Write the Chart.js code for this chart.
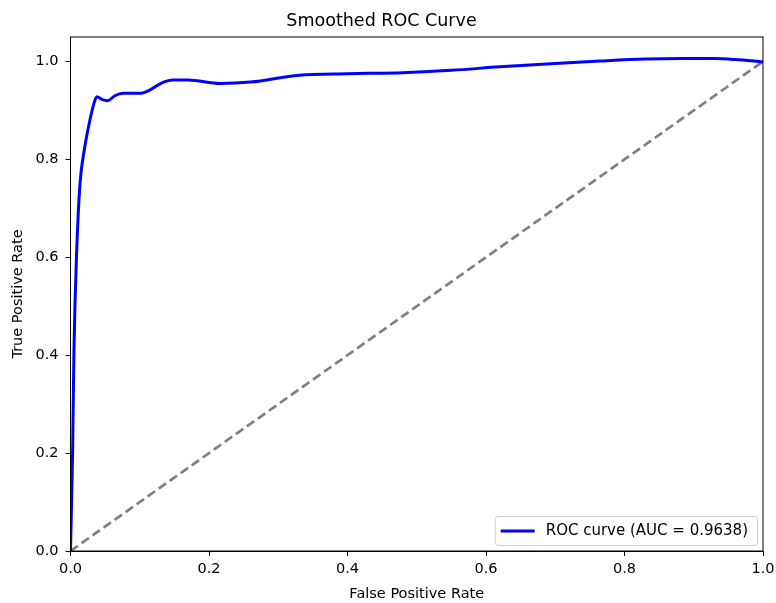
<!DOCTYPE html>
<html>
<head>
<meta charset="utf-8">
<script src="https://cdn.jsdelivr.net/npm/chart.js@4/dist/chart.umd.min.js"></script>
<style>
  html, body { margin: 0; padding: 0; background: #fff; }
  #wrap { width: 776px; height: 603px; }
</style>
</head>
<body>
<div id="wrap"><canvas id="roc"></canvas></div>
<script>
// data
const rocFpr = [0, 0.003, 0.005, 0.009, 0.0137, 0.02, 0.028, 0.034, 0.038, 0.046, 0.054, 0.064, 0.076, 0.1, 0.115, 0.13, 0.148, 0.17, 0.216, 0.26, 0.33, 0.4, 0.48, 0.55, 0.62, 0.7, 0.765, 0.83, 0.885, 0.93, 0.96, 1.0];
const rocTpr = [0, 0.2, 0.41, 0.615, 0.75, 0.82, 0.88, 0.915, 0.928, 0.922, 0.92, 0.93, 0.935, 0.935, 0.942, 0.955, 0.962, 0.962, 0.955, 0.958, 0.972, 0.975, 0.977, 0.982, 0.989, 0.996, 1.001, 1.005, 1.006, 1.006, 1.004, 0.999];
const diagX = [0, 1];
const diagY = [0, 1];
const tickValues = [0, 0.2, 0.4, 0.6, 0.8, 1.0];
const rocLabel = "ROC curve (AUC = 0.9638)";

const font = "'DejaVu Sans', sans-serif";

// full frame around the plot (matplotlib style)
const framePlugin = {
  id: "frame",
  afterDatasetsDraw(chart) {
    const { ctx, chartArea: a } = chart;
    ctx.save();
    ctx.strokeStyle = "#000";
    ctx.lineWidth = 1;
    ctx.strokeRect(a.left, a.top, a.right - a.left, a.bottom - a.top);
    ctx.restore();
  }
};

// legend box in lower right corner, inside the plot
const insideLegend = {
  id: "insideLegend",
  afterDraw(chart) {
    const { ctx, chartArea: a } = chart;
    const ds = chart.data.datasets[0];
    ctx.save();
    ctx.font = "15px " + font;
    const tw = ctx.measureText(ds.label).width;
    const w = 6 + 34 + 11 + tw + 9;
    const h = 29;
    const x = a.right - 6 - w;
    const y = a.bottom - 6 - h;
    ctx.fillStyle = "rgba(255,255,255,0.8)";
    ctx.strokeStyle = "#d0d0d0";
    ctx.lineWidth = 1;
    ctx.beginPath();
    ctx.roundRect(x + 0.5, y + 0.5, w, h, 3);
    ctx.fill();
    ctx.stroke();
    ctx.strokeStyle = ds.borderColor;
    ctx.lineWidth = 3;
    ctx.beginPath();
    ctx.moveTo(x + 6, y + h / 2 + 0.5);
    ctx.lineTo(x + 40, y + h / 2 + 0.5);
    ctx.stroke();
    ctx.fillStyle = "#000";
    ctx.textBaseline = "middle";
    ctx.fillText(ds.label, x + 51, y + h / 2 + 1);
    ctx.restore();
  }
};

const toPoints = (xs, ys) => xs.map((x, i) => ({ x: x, y: ys[i] }));

new Chart(document.getElementById("roc"), {
  type: "line",
  data: {
    datasets: [
      {
        label: rocLabel,
        data: toPoints(rocFpr, rocTpr),
        borderColor: "#0000ff",
        borderWidth: 3,
        pointRadius: 0,
        cubicInterpolationMode: "monotone",
        fill: false
      },
      {
        label: "chance",
        data: toPoints(diagX, diagY),
        borderColor: "#808080",
        borderWidth: 2.7,
        borderDash: [9, 4.5],
        pointRadius: 0,
        fill: false
      }
    ]
  },
  options: {
    responsive: true,
    maintainAspectRatio: false,
    animation: false,
    layout: { padding: { top: 0, right: 13, bottom: 0, left: 0 } },
    plugins: {
      legend: { display: false },
      tooltip: { enabled: false },
      title: {
        display: true,
        text: "Smoothed ROC Curve",
        color: "#000",
        font: { family: font, size: 17.5, weight: "normal" },
        padding: { top: 11, bottom: 5 }
      }
    },
    scales: {
      x: {
        type: "linear",
        min: 0,
        max: 1,
        afterBuildTicks: (s) => { s.ticks = tickValues.map((v) => ({ value: v })); },
        afterFit: (s) => { s.height = 52; s.paddingRight = 0; s.paddingLeft = 0; },
        grid: { display: true, drawOnChartArea: false, drawTicks: true, tickLength: 5, color: "#000" },
        border: { display: true, color: "#000" },
        ticks: {
          color: "#000",
          font: { family: font, size: 14.5 },
          padding: 5,
          maxRotation: 0,
          callback: (v) => Number(v).toFixed(1)
        },
        title: {
          display: true,
          text: "False Positive Rate",
          color: "#000",
          font: { family: font, size: 14.5 },
          padding: { top: 0, bottom: 0 }
        }
      },
      y: {
        type: "linear",
        min: 0,
        max: 1.05,
        afterBuildTicks: (s) => { s.ticks = tickValues.map((v) => ({ value: v })); },
        afterFit: (s) => { s.width = 70.5; },
        grid: { display: true, drawOnChartArea: false, drawTicks: true, tickLength: 5, color: "#000" },
        border: { display: true, color: "#000" },
        ticks: {
          color: "#000",
          font: { family: font, size: 14.5 },
          padding: 7,
          callback: (v) => Number(v).toFixed(1)
        },
        title: {
          display: true,
          text: "True Positive Rate",
          color: "#000",
          font: { family: font, size: 14.5 },
          padding: { top: 10, bottom: 0 }
        }
      }
    }
  },
  plugins: [framePlugin, insideLegend]
});
</script>
</body>
</html>
